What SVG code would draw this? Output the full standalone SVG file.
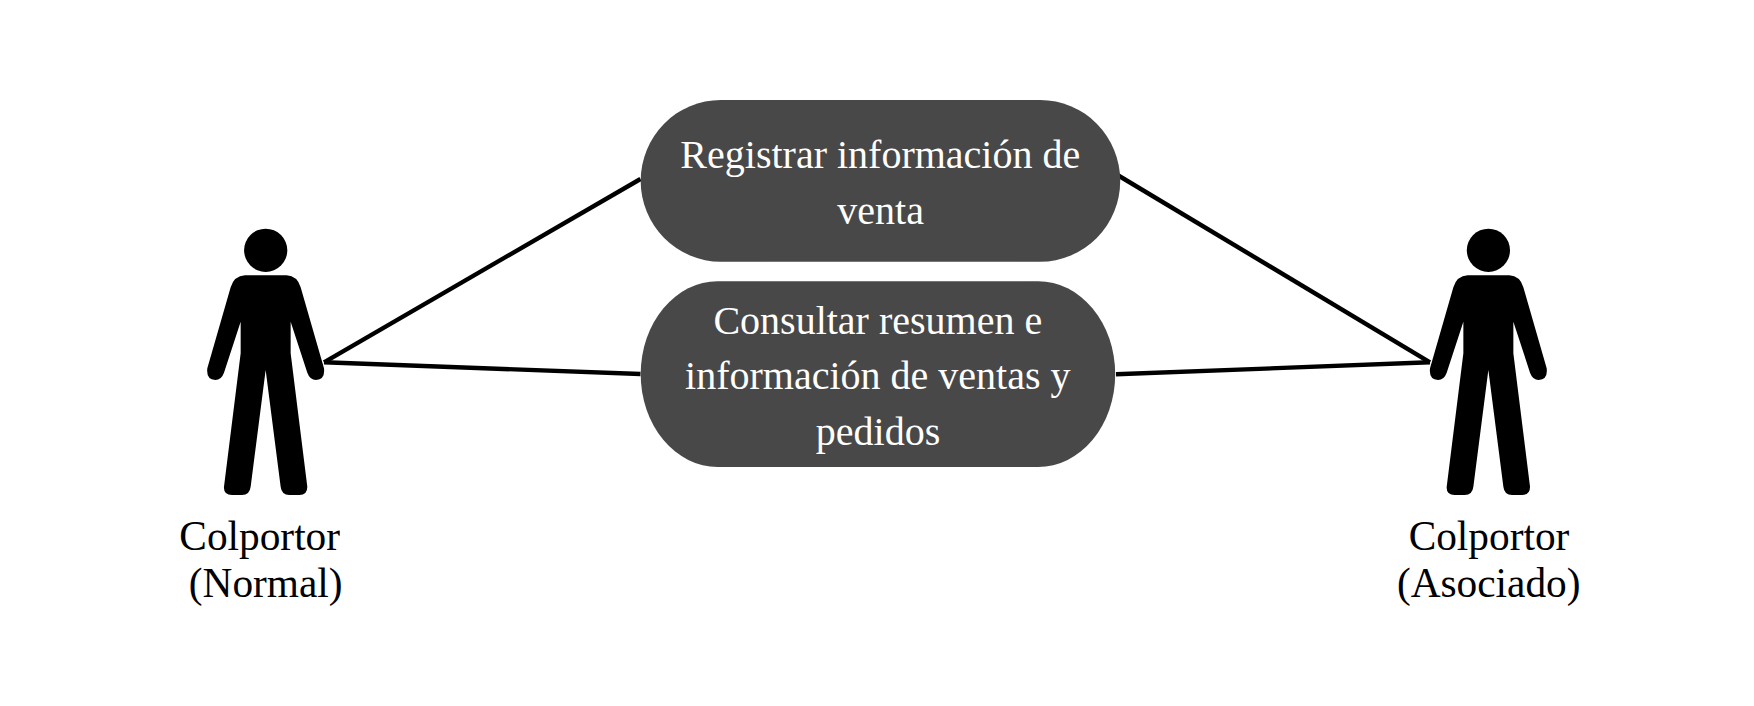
<svg xmlns="http://www.w3.org/2000/svg" xmlns:xlink="http://www.w3.org/1999/xlink" width="1754" height="706" viewBox="0 0 1754 706">
<style>
text{font-family:"Liberation Serif","Times New Roman",serif;text-anchor:middle}
.w{fill:#fff;font-size:40px}.k{fill:#000;font-size:41.33px}.pill{fill:#484848}
.c{stroke:#000;stroke-width:4.4;fill:none;stroke-linecap:butt}
</style>
<defs>
<g id="person">
<circle cx="95.7" cy="50.3" r="21.6" fill="#000"/>
<path fill="#000" transform="scale(.3333)" d="M225 226H350Q382 228 392 262L462 505Q466 538 438 540Q420 540 412 518L362 365L362 460L412 860Q412 885 388 885H358Q335 885 332 860L287 510L242 860Q239 885 216 885H186Q160 885 162 860L212 460L212 365L162 518Q154 540 136 540Q108 538 112 505L182 262Q192 228 225 226Z"/>
</g>
</defs>
<rect width="1754" height="706" fill="#fff"/>
<g id="connectors">
<line class="c" x1="324" y1="362.3" x2="640.5" y2="179"/>
<line class="c" x1="324" y1="362.3" x2="640.5" y2="374"/>
<line class="c" x1="1117.5" y1="175" x2="1430" y2="362.3"/>
<line class="c" x1="1116" y1="374.3" x2="1430" y2="362.3"/>
</g>
<g id="actor-normal">
<use href="#person" x="170" y="200"/>
<text class="k" x="259.7" y="550">Colportor</text>
<text class="k" x="265.7" y="597">(Normal)</text>
</g>
<g id="actor-asociado">
<use href="#person" x="1392.7" y="200"/>
<text class="k" x="1489" y="550">Colportor</text>
<text class="k" x="1488.7" y="597">(Asociado)</text>
</g>
<g id="uc-registrar">
<rect class="pill" x="640.7" y="100" width="479.5" height="161.7" rx="80" ry="80.8"/>
<text class="w" x="880.3" y="168.3">Registrar información de</text>
<text class="w" x="880.6" y="224.3">venta</text>
</g>
<g id="uc-consultar">
<rect class="pill" x="640.7" y="281.3" width="474.5" height="185.7" rx="77" ry="92.8"/>
<text class="w" x="877.8" y="333.5">Consultar resumen e</text>
<text class="w" x="877.8" y="389.3">información de ventas y</text>
<text class="w" x="878" y="445">pedidos</text>
</g>
</svg>
